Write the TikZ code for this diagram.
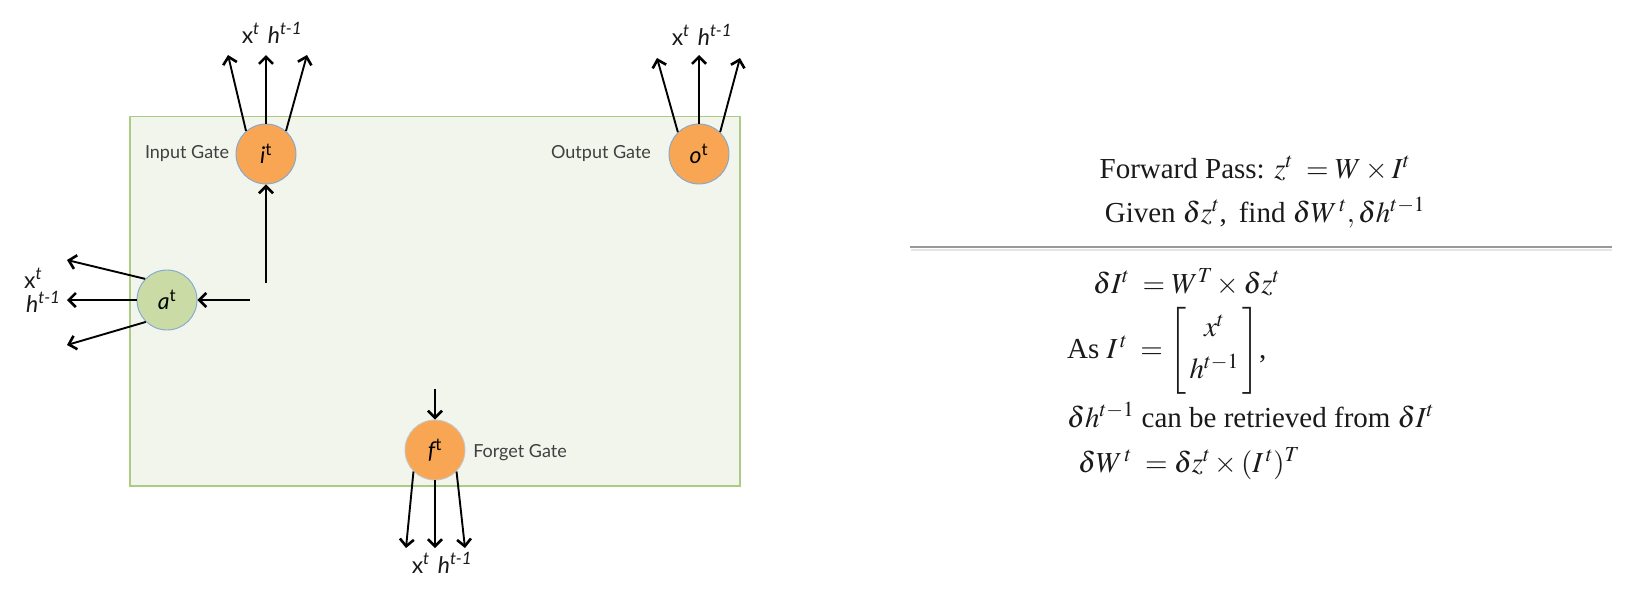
\documentclass[tikz,border=0pt]{standalone}
\usepackage{amsmath}
\usepackage{mathptmx}
\usepackage[no-math]{fontspec}
\setmainfont{Liberation Serif}
\newfontfamily\labfont{Lato}
\usetikzlibrary{arrows.meta}
\definecolor{boxfill}{HTML}{F2F5EC}
\definecolor{boxline}{HTML}{AECB84}
\definecolor{gateorange}{HTML}{F8A654}
\definecolor{greengate}{HTML}{CADBA5}
\definecolor{circblue}{HTML}{7FA8D2}
\definecolor{labgray}{HTML}{404040}
\definecolor{ink}{HTML}{1A1A1A}
\begin{document}
\begin{tikzpicture}[x=1pt,y=-1pt,
  gate/.style={circle, draw=circblue, line width=0.9pt, fill=gateorange, minimum size=60pt, inner sep=0pt, font=\labfont\fontsize{23}{25}\selectfont},
  arr/.style={line width=1.9pt, draw=black, -{Straight Barb[length=7pt,width=14pt,line width=2.6pt]}},
  gatelabel/.style={font=\labfont\fontsize{18}{20}\selectfont, text=labgray},
  iolabel/.style={font=\labfont\fontsize{23}{25}\selectfont, text=ink, inner sep=0pt},
  eq/.style={font=\fontsize{29}{35}\selectfont, text=ink, inner sep=0pt}]
\useasboundingbox (0,0) rectangle (1638,598);
% cell box
\draw[boxline, fill=boxfill, line width=1.2pt] (130,116.5) rectangle (740,486);
% gates
\node[gate] (i) at (266,154) {\textit{i}\textsuperscript{t}};
\node[gate] (o) at (699,154) {\textit{o}\textsuperscript{t}};
\node[gate, fill=greengate] (a) at (167,300) {\textit{a}\textsuperscript{t}};
\node[gate, draw=gray!45] (f) at (435,450) {\textit{f}\kern-1pt\textsuperscript{t}};
% gate names
\node[gatelabel] (inl) at (187,154) {Input Gate};
\node[gatelabel] (outl) at (601,154) {Output Gate};
\node[gatelabel] (fgl) at (520,453) {Forget Gate};
% free ends
\coordinate (i1) at (228,55); \coordinate (i2) at (266,55); \coordinate (i3) at (307,55);
\coordinate (o1) at (657,58); \coordinate (o2) at (699,55); \coordinate (o3) at (740,58);
\coordinate (a1) at (67,260); \coordinate (a2) at (67,300); \coordinate (a3) at (67,345);
\coordinate (f1) at (406,548); \coordinate (f2) at (435,548); \coordinate (f3) at (465,548);
\coordinate (ain) at (250,300); \coordinate (iin) at (266,283); \coordinate (fin) at (435,389);
% arrows
\draw[arr] (i.131) -- (i1); \draw[arr] (i.north) -- (i2); \draw[arr] (i.49) -- (i3);
\draw[arr] (o.134) -- (o1); \draw[arr] (o.north) -- (o2); \draw[arr] (o.46) -- (o3);
\draw[arr] (a.136) -- (a1); \draw[arr] (a.west) -- (a2); \draw[arr] (a.226) -- (a3);
\draw[arr] (f.225) -- (f1); \draw[arr] (f.south) -- (f2); \draw[arr] (f.315) -- (f3);
\draw[arr] (ain) -- (a.east);
\draw[arr] (iin) -- (i.south);
\draw[arr] (fin) -- (f.north);
% input labels
\node[iolabel, anchor=base] (il) at (272,43) {x\textsuperscript{\textit{t}}\hspace{0.35em}\textit{h}\textsuperscript{\textit{t-1}}};
\node[iolabel, anchor=base] (ol) at (702,45) {x\textsuperscript{\textit{t}}\hspace{0.35em}\textit{h}\textsuperscript{\textit{t-1}}};
\node[iolabel, anchor=base] (fl) at (442,573) {x\textsuperscript{\textit{t}}\hspace{0.35em}\textit{h}\textsuperscript{\textit{t-1}}};
\node[iolabel, anchor=base west] (alx) at (24,288) {x\textsuperscript{\textit{t}}};
\node[iolabel, anchor=base west] (alh) at (26,312) {\textit{h}\textsuperscript{\textit{t-1}}};
% right side
\node[eq, anchor=base] (fp) at (1255,178) {Forward Pass: $z^{t}\;=W\times I^{t}$};
\node[eq, anchor=base] (gv) at (1265,222) {Given $\delta z^{t}$,\, find $\delta W^{\,t},\delta h^{t-1}$};
\draw[gray!20, line width=2pt] (911,249.5) -- (1612,249.5);
\draw[gray!80, line width=2pt] (910,246.7) -- (1612,246.7);
\node[eq, anchor=base west] (e1) at (1093,293) {$\delta I^{t}\;=W^{T}\times\delta z^{t}$};
\node[eq, anchor=base west] (e2) at (1067,358) {As $I^{\,t}\;=\left[\,\begin{matrix}x^{t}\\[7pt] h^{t-1}\end{matrix}\,\right]$,};
\node[eq, anchor=base west] (e3) at (1067,427) {$\delta h^{t-1}$ can be retrieved from $\delta I^{t}$};
\node[eq, anchor=base west] (e4) at (1078,472) {$\delta W^{\,t}\;=\delta z^{t}\times(I^{\,t})^{T}$};
\end{tikzpicture}
\end{document}
